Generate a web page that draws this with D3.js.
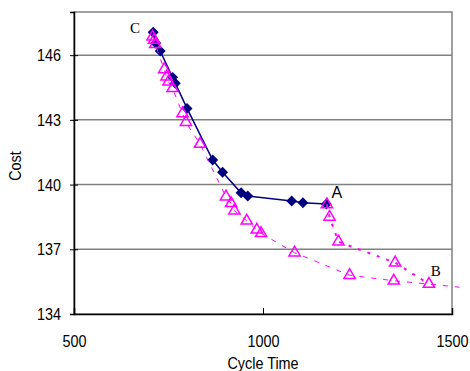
<!DOCTYPE html>
<html>
<head>
<meta charset="utf-8">
<script src="https://cdn.jsdelivr.net/npm/d3@7"></script>
<style>
  body { margin: 0; background: #fff; }
  svg { display: block; }
</style>
</head>
<body>
<div id="chart"></div>
<script>
// series
const diamondX = [709.5, 716.6, 728, 760.8, 768, 799, 867, 893, 942, 959.7, 1076, 1105.6, 1167.6];
const diamondY = [147.06, 146.55, 146.19, 144.97, 144.7, 143.53, 141.14, 140.57, 139.62, 139.47, 139.24, 139.16, 139.1];

const frontX = [707.7, 712, 715, 738.7, 744.8, 750, 760.7, 787, 796, 833.4, 902, 915.6, 924.4, 957, 983.6, 995, 1083.5, 1229, 1346, 1439, 1520];
const frontY = [146.85, 146.7, 146.5, 145.34, 145.0, 144.77, 144.46, 143.3, 142.89, 141.88, 139.44, 139.13, 138.79, 138.32, 137.9, 137.74, 136.84, 135.8, 135.54, 135.39, 135.24];

const branchX = [1169, 1176, 1199.5, 1349.6, 1439];
const branchY = [139.08, 138.5, 137.35, 136.38, 135.39];

const xTicks = [500, 1000, 1500];
const yTicks = [134, 137, 140, 143, 146];

const pointLabels = [
  { text: "C", x: 648, y: 147.03, font: "Liberation Serif", size: 15 },
  { text: "A", x: 1181, y: 139.38, font: "Liberation Sans", size: 16 },
  { text: "B", x: 1444, y: 135.76, font: "Liberation Serif", size: 15 }
];

const width = 470, height = 371;
const plotL = 74, plotR = 452, plotT = 12, plotB = 314;

const x = d3.scaleLinear().domain([500, 1500]).range([plotL, plotR]);
const y = d3.scaleLinear().domain([134, 148]).range([plotB, plotT]);

const svg = d3.select("#chart").append("svg")
  .attr("width", width).attr("height", height);

const zip = (xs, ys) => xs.map((v, i) => [v, ys[i]]);

// grid
svg.append("g")
  .selectAll("line")
  .data(yTicks.slice(1))
  .join("line")
  .attr("x1", plotL).attr("x2", plotR)
  .attr("y1", d => y(d)).attr("y2", d => y(d))
  .attr("stroke", "#808080").attr("stroke-width", 1.5);

// plot border
svg.append("rect")
  .attr("x", plotL).attr("y", plotT)
  .attr("width", plotR - plotL).attr("height", plotB - plotT)
  .attr("fill", "none").attr("stroke", "#808080").attr("stroke-width", 1.5);

// axes
const yAxis = svg.append("g").attr("transform", `translate(${plotL},0)`)
  .call(d3.axisLeft(y).tickValues(yTicks).tickFormat(d3.format("d")).tickSize(4).tickPadding(8));
yAxis.selectAll(".tick line").attr("x2", 4).attr("x1", -4);
const xAxis = svg.append("g").attr("transform", `translate(0,${plotB})`)
  .call(d3.axisBottom(x).tickValues(xTicks).tickFormat(d3.format("d")).tickSize(-6).tickPadding(20));

[yAxis, xAxis].forEach(g => {
  g.select(".domain").attr("stroke", "#000").attr("stroke-width", 1.5);
  g.selectAll(".tick line").attr("stroke", "#000").attr("stroke-width", 1);
  g.selectAll(".tick text")
    .attr("font-family", "Liberation Sans, Arial, sans-serif")
    .attr("font-size", 16).attr("fill", "#000");
});
yAxis.selectAll(".tick text").attr("x", null).attr("dy", "0.35em")
  .attr("transform", "translate(-13,0) scale(0.9,1)");
xAxis.selectAll(".tick text").attr("y", null).attr("dy", null)
  .attr("transform", "translate(0,33) scale(0.9,1)");

// axis titles
svg.append("text")
  .attr("transform", "translate(21,166) rotate(-90) scale(0.9,1)")
  .attr("text-anchor", "middle")
  .attr("font-family", "Liberation Sans, Arial, sans-serif")
  .attr("font-size", 16).text("Cost");
svg.append("text")
  .attr("transform", `translate(${x(1000)},369) scale(0.9,1)`)
  .attr("text-anchor", "middle")
  .attr("font-family", "Liberation Sans, Arial, sans-serif")
  .attr("font-size", 16).text("Cycle Time");

const line = d3.line().x(d => x(d[0])).y(d => y(d[1]));

// navy series
const navy = zip(diamondX, diamondY);
svg.append("path").attr("d", line(navy))
  .attr("fill", "none").attr("stroke", "#000080").attr("stroke-width", 1.5);
svg.append("g").selectAll("path")
  .data(navy)
  .join("path")
  .attr("d", d3.symbol(d3.symbolSquare, 60)())
  .attr("transform", d => `translate(${x(d[0])},${y(d[1])}) rotate(45)`)
  .attr("fill", "#000080");

// magenta series
const front = zip(frontX, frontY);
const branch = zip(branchX, branchY);
svg.append("path").attr("d", line(front))
  .attr("fill", "none").attr("stroke", "#ff00ff").attr("stroke-width", 1)
  .attr("stroke-dasharray", "5,7");
svg.append("path").attr("d", line(branch))
  .attr("fill", "none").attr("stroke", "#ff00ff").attr("stroke-width", 2)
  .attr("stroke-dasharray", "3,7");

svg.append("g").selectAll("path")
  .data(front.filter(d => d[0] <= 1500).concat(branch.slice(0, 4)))
  .join("path")
  .attr("d", d3.symbol(d3.symbolTriangle, 55)())
  .attr("transform", d => `translate(${x(d[0])},${y(d[1])})`)
  .attr("fill", "none").attr("stroke", "#ff00ff").attr("stroke-width", 1.5);

// point labels
svg.append("g").selectAll("text")
  .data(pointLabels)
  .join("text")
  .attr("x", d => x(d.x)).attr("y", d => y(d.y))
  .attr("font-family", d => d.font)
  .attr("font-size", d => d.size)
  .attr("fill", "#000")
  .text(d => d.text);
</script>
</body>
</html>
